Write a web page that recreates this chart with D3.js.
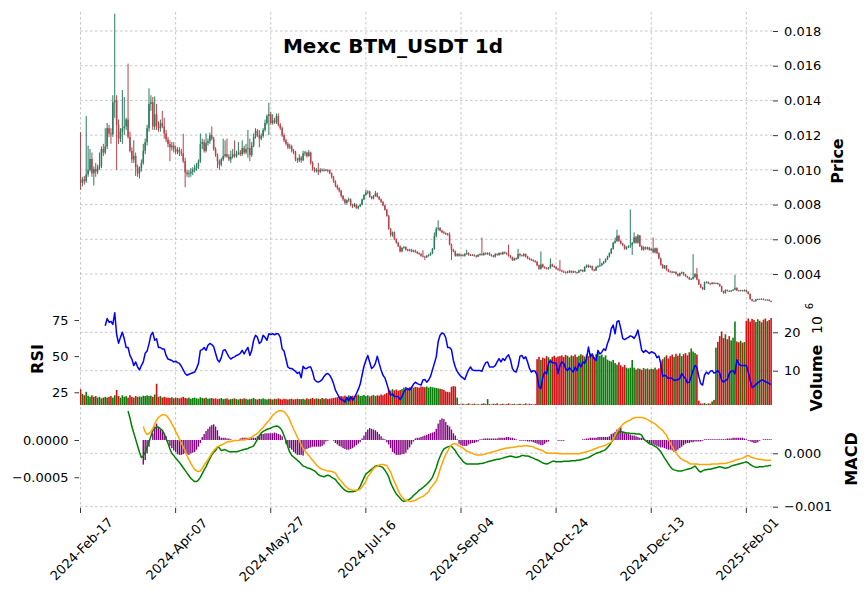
<!DOCTYPE html>
<html><head><meta charset="utf-8">
<script src="https://cdn.jsdelivr.net/npm/d3@7"></script>
<style>body{margin:0;background:#fff}svg{display:block}text{font-family:"DejaVu Sans",sans-serif}</style>
</head><body><svg id="chart" width="868" height="600"></svg>
<script>
const title = "Mexc BTM_USDT 1d";
const tickIndex = [0,50,100,150,200,250,300,350];
const tickLabels = ["2024-Feb-17","2024-Apr-07","2024-May-27","2024-Jul-16","2024-Sep-04","2024-Oct-24","2024-Dec-13","2025-Feb-01"];
const priceUnit = 1e-5; // prices below are in units of 0.00001 USDT
const open = [
950,925,945,935,975,1000,1063,980,1005,990,
1015,1025,1120,1100,1135,1240,1210,1205,1390,1400,
1260,1180,1220,1240,1250,1290,1190,1110,1060,1080,
1015,980,1010,1040,1110,1160,1240,1380,1390,1250,
1320,1250,1240,1270,1250,1210,1175,1150,1130,1140,
1120,1105,1115,1100,1095,1050,985,975,980,990,
1000,1010,1020,1050,1150,1160,1110,1155,1165,1200,
1180,1120,1085,1050,1030,1060,1080,1090,1076,1060,
1075,1090,1080,1095,1100,1090,1125,1100,1120,1125,
1085,1140,1190,1225,1200,1180,1195,1230,1270,1310,
1320,1270,1285,1275,1310,1260,1240,1200,1170,1150,
1130,1135,1110,1105,1060,1055,1070,1055,1095,1100,
1080,1100,1040,1005,995,1000,990,1000,998,1000,
999,998,980,960,935,910,895,880,850,830,
810,825,830,800,790,800,780,790,800,830,
855,870,875,845,835,850,865,845,830,815,
795,770,735,660,625,640,600,580,560,530,
550,555,540,535,540,530,535,528,520,515,
505,500,497,505,510,520,545,620,660,665,
650,640,635,632,625,570,540,530,505,515,
505,510,505,515,520,510,508,510,505,500,
510,515,510,520,515,520,510,505,500,515,
510,520,515,525,520,515,505,495,480,490,
488,515,508,505,515,500,490,485,480,475,
470,450,430,455,440,435,430,435,455,445,
440,430,425,420,415,412,408,410,418,410,
415,410,408,420,423,415,440,450,440,445,
425,420,440,445,450,460,470,485,500,520,
545,580,590,620,590,575,565,545,555,560,
565,580,612,580,622,560,540,555,545,552,
538,545,525,548,520,490,453,434,448,425,
415,413,410,412,400,390,405,410,396,387,
380,370,372,382,400,368,340,322,312,352,
354,345,342,350,345,348,342,330,300,290,
308,302,300,305,310,320,305,303,306,302,
308,298,285,255,245,244,254,256,254,257,
252,250,252,245];
const high = [
1217,960,965,1310,1140,1120,1100,1020,1040,1030,
1100,1135,1150,1240,1270,1260,1240,1430,1900,1430,
1290,1240,1460,1420,1300,1612,1220,1130,1170,1100,
1030,1020,1060,1150,1180,1260,1470,1430,1420,1423,
1380,1280,1290,1340,1300,1230,1190,1170,1160,1160,
1140,1130,1130,1120,1208,1070,1000,1000,1010,1015,
1030,1040,1060,1210,1180,1175,1210,1180,1215,1250,
1190,1130,1095,1060,1070,1180,1170,1180,1090,1110,
1120,1170,1110,1160,1115,1170,1140,1150,1230,1180,
1160,1210,1240,1235,1230,1210,1240,1290,1320,1386,
1335,1320,1300,1325,1325,1270,1250,1210,1180,1160,
1150,1145,1120,1110,1070,1090,1080,1110,1110,1105,
1115,1105,1050,1015,1010,1040,1010,1008,1008,1005,
1005,1002,985,965,940,915,900,885,855,835,
830,840,835,805,810,805,795,805,835,860,
885,882,880,850,855,878,870,850,835,820,
800,775,740,665,645,645,605,585,565,555,
560,560,545,545,545,540,540,532,525,520,
537,505,510,515,525,550,640,670,709,670,
655,648,640,636,640,575,545,535,520,520,
515,515,520,540,525,515,515,514,510,515,
520,610,525,525,525,525,515,510,520,520,
525,525,530,530,525,570,510,500,495,495,
545,520,512,520,518,505,495,490,485,480,
475,455,530,460,445,440,440,490,460,450,
445,435,480,425,420,415,418,422,420,420,
418,413,425,428,426,445,455,455,450,448,
430,445,450,490,465,475,490,505,525,550,
585,610,655,625,595,580,570,560,565,772,
585,640,620,630,625,565,560,558,558,556,
548,610,552,552,525,495,458,452,452,430,
420,418,416,415,404,408,414,412,400,390,
384,378,514,405,434,372,344,326,356,358,
357,349,353,352,351,350,345,333,304,311,
311,306,308,313,396,323,308,309,309,311,
310,301,288,258,248,256,259,258,260,259,
254,255,254,247];
const low = [
885,905,915,925,960,990,960,910,960,975,
1000,1010,1080,1090,1120,1190,1150,1190,1300,1000,
1150,1160,1150,1200,1230,1180,1100,1040,1040,965,
960,950,990,1030,1090,1140,1220,1340,1230,1230,
1230,1220,1220,1240,1180,1160,1130,1050,1110,1100,
1090,1090,1080,1080,1040,900,960,955,960,970,
985,995,1005,1040,1120,1100,1100,1140,1150,1170,
1110,1075,1010,1000,1020,1050,1070,1070,1050,1040,
1065,1070,1070,1085,1080,1080,1090,1090,1070,1050,
1075,1130,1180,1190,1130,1170,1185,1220,1260,1200,
1260,1260,1265,1265,1250,1230,1190,1160,1140,1120,
1120,1100,1090,1050,1040,1045,1040,1050,1080,1070,
1075,1030,995,985,985,970,980,990,990,992,
985,975,950,925,900,885,870,840,820,800,
800,815,790,780,785,775,772,785,795,825,
850,860,840,830,830,845,840,825,810,790,
765,730,655,615,615,595,575,555,525,525,
545,535,530,530,525,525,522,515,510,500,
495,480,492,500,505,515,540,610,650,645,
635,630,625,620,565,480,525,500,500,500,
500,500,500,510,505,503,505,500,495,498,
505,505,505,510,510,505,500,495,495,505,
505,510,510,515,510,500,490,475,475,480,
485,500,500,500,495,485,480,475,470,465,
445,425,425,435,430,425,425,430,440,435,
425,420,415,410,405,402,404,405,405,405,
405,402,405,415,410,412,435,435,435,420,
415,418,435,440,445,455,465,480,495,515,
540,575,585,585,570,560,540,540,550,550,
510,575,575,575,555,535,535,540,540,535,
532,520,518,515,485,448,430,430,420,410,
408,405,406,396,385,386,400,390,384,376,
366,365,368,378,364,336,318,308,308,346,
342,338,340,341,342,338,326,296,286,287,
299,297,297,302,306,302,300,300,299,299,
295,282,252,242,240,241,251,251,252,249,
247,248,243,237];
const close = [
925,945,935,975,1000,1063,980,1005,990,1015,
1025,1120,1100,1135,1240,1210,1205,1390,1400,1260,
1180,1220,1240,1250,1290,1190,1110,1060,1080,1015,
980,1010,1040,1110,1160,1240,1380,1390,1250,1320,
1250,1240,1270,1250,1210,1175,1150,1130,1140,1120,
1105,1115,1100,1095,1050,985,975,980,990,1000,
1010,1020,1050,1150,1160,1110,1155,1165,1200,1180,
1120,1085,1050,1030,1060,1080,1090,1076,1060,1075,
1090,1080,1095,1100,1090,1125,1100,1120,1125,1085,
1140,1190,1225,1200,1180,1195,1230,1270,1310,1320,
1270,1285,1275,1310,1260,1240,1200,1170,1150,1130,
1135,1110,1105,1060,1055,1070,1055,1095,1100,1080,
1100,1040,1005,995,1000,990,1000,998,1000,999,
998,980,960,935,910,895,880,850,830,810,
825,830,800,790,800,780,790,800,830,855,
870,875,845,835,850,865,845,830,815,795,
770,735,660,625,640,600,580,560,530,550,
555,540,535,540,530,535,528,520,515,505,
500,497,505,510,520,545,620,660,665,650,
640,635,632,625,570,540,530,505,515,505,
510,505,515,520,510,508,510,505,500,510,
515,510,520,515,520,510,505,500,515,510,
520,515,525,520,515,505,495,480,490,488,
515,508,505,515,500,490,485,480,475,470,
450,430,455,440,435,430,435,455,445,440,
430,425,420,415,412,408,410,418,410,415,
410,408,420,423,415,440,450,440,445,425,
420,440,445,450,460,470,485,500,520,545,
580,590,620,590,575,565,545,555,560,565,
580,612,580,622,560,540,555,545,552,538,
545,525,548,520,490,453,434,448,425,415,
413,410,412,400,390,405,410,396,387,380,
370,372,382,400,368,340,322,312,352,354,
345,342,350,345,348,342,330,300,290,308,
302,300,305,310,320,305,303,306,302,308,
298,285,255,245,244,254,256,254,257,252,
250,252,245,240];
const volumeUnit = 1e6; // volume values are in millions
const volume = [
5.2,4.0,3.6,4.5,3.5,3.2,3.6,3.2,3.4,3.0,3.2,2.8,3.0,3.2,3.0,
3.2,3.4,3.0,3.6,5.0,3.4,3.0,3.6,3.2,3.4,3.0,3.6,3.2,3.0,3.4,3.2,
3.3,3.2,3.5,3.4,3.6,3.4,3.5,3.2,3.8,6.6,3.2,3.4,3.0,3.2,3.0,
3.0,2.9,3.1,2.8,3.0,2.9,2.8,3.0,3.2,2.9,2.8,3.0,2.7,2.9,3.0,2.8,2.7,3.1,2.9,2.8,3.0,2.7,2.8,2.9,2.7,
2.8,2.6,2.7,2.9,2.6,2.7,2.8,2.5,2.6,2.7,2.8,2.6,2.5,2.7,2.6,2.8,2.7,2.5,2.6,2.7,
2.9,2.6,2.5,2.7,2.6,2.8,2.6,2.5,2.7,2.6,2.5,2.7,2.6,2.8,2.6,2.5,2.7,2.6,2.5,2.6,
2.7,2.5,2.6,2.7,2.6,
2.6,2.7,2.5,2.8,2.6,2.7,2.9,2.6,2.8,2.7,2.6,2.9,2.7,2.8,2.6,2.7,2.8,2.9,3.0,3.1,3.2,
3.4,3.3,3.5,3.2,3.6,3.4,3.5,3.3,3.6,3.8,3.4,3.5,3.7,3.4,3.6,3.3,3.5,3.7,3.4,3.6,3.5,3.8,3.6,3.9,4.2,
5.0,4.8,5.2,4.9,5.1,4.8,5.0,5.2,
5.6,5.8,5.5,5.7,5.9,5.6,5.8,5.7,5.6,5.9,5.8,5.7,5.9,5.6,5.8,5.7,5.6,5.5,5.4,5.3,5.2,5.0,
4.6,4.5,4.4,5.8,6.0,5.9,3.0,
1.3,1.2,1.4,1.2,1.3,1.5,1.2,1.3,1.4,1.2,1.3,1.2,1.4,1.5,1.3,2.6,1.3,1.2,1.4,1.3,
1.5,1.2,1.3,1.4,1.2,1.3,1.5,1.2,1.3,1.4,1.2,1.3,1.4,1.2,1.3,1.5,1.2,1.4,1.3,1.2,1.3,
13.0,13.6,12.8,13.4,13.2,13.8,13.5,13.0,13.6,13.9,13.4,13.7,
13.8,14.0,13.6,14.1,13.9,13.5,14.0,13.8,14.2,13.6,13.9,14.3,14.0,13.7,
14.2,13.8,14.5,14.0,13.6,14.3,14.6,13.9,14.2,13.5,14.0,
12.9,12.6,12.4,12.8,12.0,11.6,12.2,11.4,11.0,11.5,10.8,
10.6,10.8,12.8,10.8,10.3,10.6,10.5,10.2,10.7,10.4,10.6,10.3,10.5,10.4,10.8,10.3,10.6,
12.6,13.0,13.5,14.0,13.2,13.8,14.2,13.6,14.4,13.9,14.5,13.8,14.3,14.6,14.0,14.8,
15.8,15.0,14.6,14.2,
2.2,1.5,1.4,1.6,1.3,1.5,1.4,2.0,2.4,
16.0,17.5,19.0,20.2,18.5,
19.5,18.2,19.0,17.9,18.6,
22.8,17.6,17.4,17.8,17.3,17.5,
23.0,23.6,22.8,23.5,23.2,22.7,23.4,23.0,22.6,23.3,23.6,22.9,23.2,23.7];
const rsiStart = 13;
const rsi = [
71,76,73.5,74,72,80,65,59,63,66.5,
62,56,56,50.5,48,43.5,46,42.5,40.5,43.5,
46,52,53.5,58.5,64.5,66.5,61,62,56,56,
55,55,50.5,48,47.5,47,46,46.5,45.5,45,
43,40.5,38,36.8,37.5,38,38.5,39,41.5,45,
54,54.5,56,54,57.5,58.8,58,56.5,52,47.5,
46,49,54,54.5,52,49.5,48,49,49.5,50.5,
51,52,54,51.5,54,56,50.5,54,61,64.5,
63,58.8,60,64.5,63,61,65.5,65,65.5,64.8,
65.5,65.5,63,55,53.5,48,42.5,41.5,41.5,40.5,
39.5,38,39,35,43,41.5,41.5,42.5,42.5,39,
33.8,32.5,32,32.7,33.8,36,37.5,38,36.8,34.5,
31,26.5,24,21.5,20,19.5,18.3,21.5,19,22,
19.5,21.5,24,27,30.5,36.8,43,47,50.5,46,
41.5,42.5,45,50,45,40.5,36.8,35,31,26.5,
23,24,22,22,22,20,22,25.3,27,27.5,
26.5,28.3,30.5,32,31,30.5,30,33.5,33.8,32,
33.5,36,40.5,45,49.5,60,64.5,66,65.5,62.7,
56,56,54.5,47,42.5,39.5,37.5,36,35,33.8,
37.5,40.5,42.5,40.5,40,40,40,40,39.5,43,
45.5,46,42.5,42.5,42.5,43.5,46,48.3,46,48.3,
47,49.5,51,47.5,41.5,39.5,39,43,50,50.5,
48.3,49.5,46,41.5,39,40,39.5,36.8,28.8,27.5,
35.5,39,37.7,45,47,45.5,45.5,45,38,43.5,
46,45,41.5,40,42,40.5,39,42.5,40,45,
42.5,46,45,48.3,56.3,49.5,51.5,48.3,47,54,
51.5,52.7,55,54,58.8,62.3,69,71.5,65.5,73.8,
74.5,69,62.3,61.5,62.3,63,64,63.5,62.3,64.5,
68,61.3,54,52.5,54,53,51.8,53,52.5,51.8,
49,50,45,36,36.8,36,34.5,35,34.5,33.3,
33.3,33.8,34.5,38,36,34.5,31.5,32,36,40,
43.5,42.3,36,31,30,36.8,39,37.7,39.5,40,
38.3,39,40,38.3,33.3,32,33.3,33.8,38,39.5,
40,37.7,47.5,44.6,43.5,43.5,43.5,43.5,39,33.3,
28.3,29,30.3,31.5,32.5,33.5,33.3,32.3,31.8,31,30.5];
const macdUnit = 1e-5; // MACD values below are in units of 0.00001
const macdStart = 25;
const macd = [
79,66,50,38,26,14,2,-8,-5,2,
12,21,32,42,47,49,49,46,43,37,
27,19,8,0,-4,-9,-13,-17,-22,-27,
-32,-37,-42,-47,-50,-53,-53,-50,-45,-38,
-31,-25,-17,-10,-3,2,5,12,10,5,
6,7,5,3,3,3,3,3,4,5,
6,7,8,9,11,12,14,20,26,32,
38,41,43,45,46,47,49,50,51,50,
47,42,33,23,12,2,-4,-7,-10,-13,
-16,-20,-24,-25,-27,-28,-29,-31,-33,-36,
-40,-42,-43,-44,-42,-41,-42,-45,-47,-49,
-54,-58,-62,-66,-69,-71,-72,-72,-72,-71,
-70,-68,-62,-54,-46,-39,-36,-33,-30,-27,
-24,-23,-24,-25,-27,-32,-37,-44,-55,-63,
-70,-76,-80,-84,-88,-90,-89,-88,-86,-83,
-79,-76,-73,-69,-67,-64,-61,-58,-54,-50,
-45,-36,-27,-15,-6,2,8,10,12,13,
13,9,5,-1,-6,-10,-15,-18,-20,-20,
-20,-20,-20,-20,-20,-19,-19,-18,-17,-16,
-15,-14,-13,-12,-11,-11,-10,-9,-8,-7,
-6,-5,-6,-7,-8,-7,-6,-4,-4,-5,
-5,-6,-8,-9,-11,-12,-14,-16,-18,-19,
-20,-19,-17,-15,-15,-16,-16,-16,-16,-15,
-15,-15,-15,-14,-14,-14,-13,-13,-12,-11,
-10,-9,-8,-6,-4,-2,0,1,2,4,
5,7,11,15,20,26,32,36,40,41,
40,39,38,38,37,37,37,36,36,36,
34,27,24,21,18,17,15,13,11,7,
3,-3,-9,-14,-20,-25,-29,-31,-32,-33,
-33,-33,-32,-31,-30,-29,-28,-26,-24,-28,
-33,-35,-33,-31,-31,-30,-30,-29,-28,-27,
-26,-25,-26,-27,-28,-27,-26,-24,-23,-22,
-21,-20,-19,-18,-17,-16,-18,-21,-23,-25,
-26,-26,-25,-25,-25,-24,-24,-23,-23];
const signalStart = 33;
const signal = [
50,40,35,37,41,46,55,62,67,70,
72,72,71,67,62,55,49,41,34,27,
19,12,5,-4,-12,-19,-25,-30,-33,-34,
-33,-28,-22,-17,-12,-6,0,5,9,12,
14,16,17,19,21,22,22,23,24,24,
24,25,25,25,26,27,28,30,33,35,
37,41,45,48,53,57,61,66,71,74,
77,79,80,79,78,74,69,62,53,45,
38,30,24,16,9,4,0,-4,-9,-13,
-17,-22,-25,-28,-30,-31,-32,-33,-33,-34,
-35,-37,-43,-48,-52,-56,-61,-64,-67,-68,
-69,-69,-69,-69,-67,-63,-58,-52,-44,-39,
-34,-29,-26,-24,-22,-21,-21,-22,-23,-29,
-35,-45,-53,-61,-70,-77,-82,-86,-88,-89,
-90,-90,-89,-88,-86,-84,-82,-81,-78,-75,
-72,-65,-61,-56,-52,-42,-30,-20,-10,-2,
4,11,16,18,18,16,14,12,10,7,
4,3,1,0,-2,-3,-3,-3,-3,-2,
-1,0,1,2,3,4,5,6,7,8,
9,10,10,11,11,12,12,13,13,13,
14,14,14,13,13,12,10,9,7,6,
5,2,1,0,0,0,0,0,0,-1,
-1,-1,-1,-1,-1,-1,-1,-1,-1,-1,
0,1,2,3,4,5,6,8,9,11,
12,13,14,15,17,19,21,27,33,40,
46,50,54,57,59,61,62,65,66,67,
67,67,67,66,65,63,61,59,57,55,
52,48,46,43,38,34,26,19,12,6,
1,-4,-8,-11,-13,-15,-16,-19,-20,-20,
-20,-20,-21,-21,-21,-21,-21,-21,-21,-20,
-20,-20,-20,-19,-19,-19,-19,-18,-17,-16,
-15,-13,-12,-11,-10,-9,-7,-5,-4,-6,
-8,-9,-10,-11,-11,-12,-12,-13,-13,-13,-13];
const histStart = 33;
const hist = [
-33,-27,-18,-9,0,9,18,22,16,14,
12,9,5,-2,-8,-11,-14,-16,-19,-20,
-20,-19,-18,-19,-20,-18,-17,-16,-13,-9,
-4,4,8,12,15,18,20,21,18,13,
5,3,3,3,2,2,1,0,-1,-1,
0,2,3,3,3,3,3,3,3,3,
5,7,8,8,9,9,9,9,9,10,
9,8,7,5,0,-5,-9,-11,-13,-16,
-18,-20,-20,-20,-21,-13,-12,-11,-10,-9,
-9,-9,-9,-9,-8,-6,-2,-1,0,0,
-1,-4,-6,-8,-9,-11,-12,-13,-13,-12,
-11,-9,-7,-5,-3,2,6,11,14,16,
15,14,13,11,8,5,2,1,-3,-6,
-11,-16,-18,-20,-20,-20,-19,-19,-17,-13,
-10,-6,-2,2,3,3,4,5,6,7,
8,9,10,11,15,22,27,29,28,24,
20,18,14,9,6,1,-5,-7,-8,-8,
-8,-6,-5,-4,-4,-3,-2,1,1,2,
2,2,2,2,2,2,2,3,3,3,
3,4,4,3,3,2,1,0,-1,-1,
-1,-1,-2,-2,-2,-3,-4,-5,-6,-7,
-7,-5,-3,-2,0,0,0,0,-1,-1,
-1,-1,0,0,0,0,0,0,0,0,
0,1,1,2,2,3,3,3,3,4,
4,4,4,4,4,5,8,9,11,14,
16,17,11,9,9,8,7,6,6,5,
4,3,3,2,-1,-2,-4,-5,-6,-7,
-8,-9,-10,-10,-11,-12,-13,-13,-14,-16,
-15,-13,-11,-9,-7,-5,-4,-4,-3,-3,
-2,-2,-2,-2,-1,1,1,1,1,1,
1,1,1,1,1,1,1,2,2,2,
3,3,3,3,3,3,2,1,-1,-2,
-3,-4,-4,-3,-1,0,1,1,1,1,1];
const priceTicks = [0.004,0.006,0.008,0.010,0.012,0.014,0.016,0.018];
const rsiTicks = [25,50,75];
const volTicks = [10,20];
const macdTicks = [0,-0.001];
const histTicks = [0,-0.0005];

// ---------- layout ----------
const svg = d3.select("#chart");
const LEFT = 80, RIGHT = 773;
const PP = {top:12, bottom:306}, RP = {top:306, bottom:405}, MP = {top:405, bottom:508};
const x = d3.scaleLinear().domain([0, 364]).range([80.5, 773]);
const step = x(1) - x(0);
const yP = d3.scaleLinear().domain([0.002156, 0.019095]).range([PP.bottom, PP.top]);
const yR = d3.scaleLinear().domain([16.2, 84.7]).range([RP.bottom, RP.top]);
const yV = d3.scaleLinear().domain([1.07, 26.85]).range([RP.bottom, RP.top]);
const yM = d3.scaleLinear().domain([-0.001024, 0.000904]).range([MP.bottom, MP.top]);
const yH = d3.scaleLinear().domain([-0.000912, 0.000469]).range([MP.bottom, MP.top]);
const UP = "#2b7a5c", DN = "#b3434c", VUP = "#0b7d0b", VDN = "#d01111";

const defs = svg.append("defs");
function clip(id, p){ defs.append("clipPath").attr("id", id).append("rect")
  .attr("x", LEFT).attr("y", p.top).attr("width", RIGHT-LEFT).attr("height", p.bottom-p.top); }
clip("cp", PP); clip("cr", RP); clip("cm", MP);

// grid
const grid = svg.append("g").attr("stroke", "#b9b9b9").attr("stroke-width", 0.8).attr("stroke-dasharray", "2.6,2.4").attr("fill","none");
tickIndex.forEach(i => grid.append("line").attr("x1", x(i)).attr("x2", x(i)).attr("y1", PP.top).attr("y2", MP.bottom));
const hline = (y) => grid.append("line").attr("x1", LEFT).attr("x2", RIGHT).attr("y1", y).attr("y2", y);
priceTicks.forEach(v => hline(yP(v)));
volTicks.forEach(v => hline(yV(v)));
macdTicks.forEach(v => hline(yM(v)));

const idx = d3.range(close.length);
const isUp = i => close[i] >= open[i];

// candles
const gC = svg.append("g").attr("clip-path", "url(#cp)");
gC.selectAll("line").data(idx).join("line")
  .attr("x1", i => x(i)).attr("x2", i => x(i))
  .attr("y1", i => yP(high[i]*priceUnit)).attr("y2", i => yP(low[i]*priceUnit))
  .attr("stroke", i => isUp(i) ? UP : DN).attr("stroke-width", 1.0);
const bw = step*0.8;
gC.selectAll("rect").data(idx).join("rect")
  .attr("x", i => x(i)-bw/2).attr("width", bw)
  .attr("y", i => yP(Math.max(open[i], close[i])*priceUnit))
  .attr("height", i => Math.max(0.8, Math.abs(yP(open[i]*priceUnit) - yP(close[i]*priceUnit))))
  .attr("fill", i => isUp(i) ? UP : DN);

// volume + rsi
const gR = svg.append("g").attr("clip-path", "url(#cr)");
const vw = step*0.85;
gR.selectAll("rect").data(idx).join("rect")
  .attr("x", i => x(i)-vw/2).attr("width", vw)
  .attr("y", i => yV(volume[i])).attr("height", i => Math.max(0, RP.bottom - yV(volume[i])))
  .attr("fill", i => isUp(i) ? VUP : VDN);
gR.append("path").datum(rsi)
  .attr("d", d3.line().x((d,k) => x(k+rsiStart)).y(d => yR(d)))
  .attr("fill", "none").attr("stroke", "#0000ff").attr("stroke-width", 1.5).attr("stroke-linejoin","round");

// macd
const gM = svg.append("g").attr("clip-path", "url(#cm)");
const hw = step*0.72;
gM.selectAll("rect").data(hist).join("rect")
  .attr("x", (d,k) => x(k+histStart)-hw/2).attr("width", hw)
  .attr("y", d => Math.min(yH(0), yH(d*macdUnit))).attr("height", d => Math.abs(yH(d*macdUnit) - yH(0)))
  .attr("fill", "#800080");
gM.append("path").datum(macd)
  .attr("d", d3.line().x((d,k) => x(k+macdStart)).y(d => yM(d*macdUnit)))
  .attr("fill", "none").attr("stroke", "#008000").attr("stroke-width", 1.5).attr("stroke-linejoin","round");
gM.append("path").datum(signal)
  .attr("d", d3.line().x((d,k) => x(k+signalStart)).y(d => yM(d*macdUnit)))
  .attr("fill", "none").attr("stroke", "#ffa500").attr("stroke-width", 1.5).attr("stroke-linejoin","round");

// axes
function styleAxis(g){ g.select(".domain").remove(); g.selectAll("text").attr("font-size", 13).attr("fill", "#000").attr("font-family","DejaVu Sans");
  g.selectAll(".tick line").attr("stroke", "#000").attr("stroke-width", 0.8); }
svg.append("g").attr("transform", `translate(${RIGHT},0)`)
  .call(d3.axisRight(yP).tickValues(priceTicks).tickFormat(d3.format(".3f")).tickSize(5).tickPadding(6)).call(styleAxis);
svg.append("g").attr("transform", `translate(${RIGHT},0)`)
  .call(d3.axisRight(yV).tickValues(volTicks).tickFormat(d3.format("d")).tickSize(5).tickPadding(6)).call(styleAxis);
svg.append("g").attr("transform", `translate(${RIGHT},0)`)
  .call(d3.axisRight(yM).tickValues(macdTicks).tickFormat(d3.format(".3f")).tickSize(5).tickPadding(6)).call(styleAxis);
svg.append("g").attr("transform", `translate(${LEFT-1},0)`)
  .call(d3.axisLeft(yR).tickValues(rsiTicks).tickFormat(d3.format("d")).tickSize(4.5).tickPadding(6)).call(styleAxis);
svg.append("g").attr("transform", `translate(${LEFT-1},0)`)
  .call(d3.axisLeft(yH).tickValues(histTicks).tickFormat(d3.format(".4f")).tickSize(4.5).tickPadding(6)).call(styleAxis);

// x axis (labels rotated 45°, centred on tick)
const xa = svg.append("g");
tickIndex.forEach((ti, k) => {
  const tx = x(ti);
  xa.append("line").attr("x1", tx).attr("x2", tx).attr("y1", MP.bottom).attr("y2", MP.bottom+5).attr("stroke", "#000").attr("stroke-width", 0.8);
  xa.append("text").attr("transform", `translate(${tx+1},${MP.bottom+41}) rotate(-45)`)
    .attr("text-anchor", "middle").attr("dy", "0.35em").attr("font-size", 13).attr("fill","#000").text(tickLabels[k]);
});

// labels
svg.append("text").attr("x", 393).attr("y", 53).attr("text-anchor", "middle").attr("font-size", 20).attr("font-weight", "bold").text(title);
function vlabel(txt, xx, yy, size, weight){ return svg.append("text").attr("transform", `translate(${xx},${yy}) rotate(-90)`)
  .attr("text-anchor", "middle").attr("font-size", size).attr("font-weight", weight).text(txt); }
vlabel("Price", 843, 161, 16, "bold");
vlabel("RSI", 43, 359, 16, "bold");
vlabel("MACD", 857, 459, 16, "bold");
vlabel("Volume", 822, 378, 16, "bold");
vlabel("10", 822, 325, 14, "normal");
vlabel("6", 813, 306, 10, "normal");
</script></body></html>
